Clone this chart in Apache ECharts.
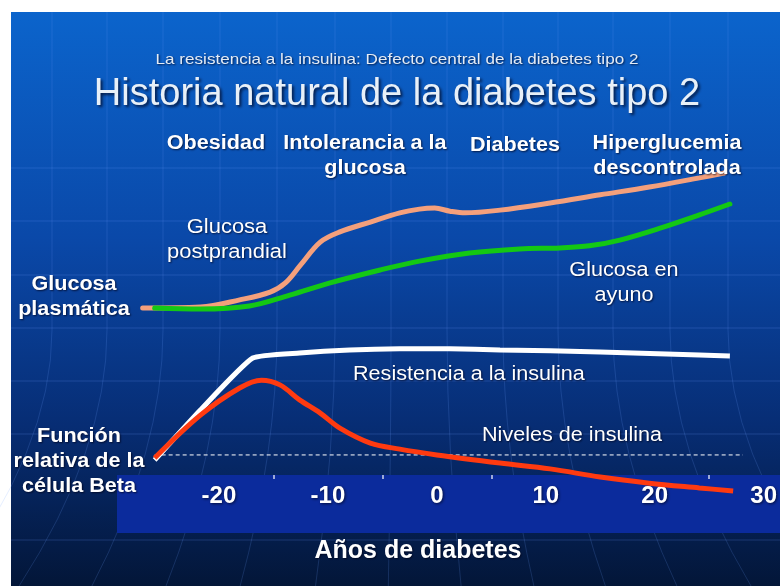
<!DOCTYPE html>
<html><head><meta charset="utf-8">
<script src="https://cdn.jsdelivr.net/npm/echarts@6/dist/echarts.min.js"></script>
<style>html,body{margin:0;padding:0;background:#fff}#c{width:780px;height:586px}</style>
</head><body><div id="c"></div>
<script>
// Years of diabetes (x) and relative level (y)
const xTicks = [-20, -10, 0, 10, 20, 30];
const xMinorTicks = [-15, -5, 5, 15, 25];
const postprandial = [[-27.0,49.1],[-21.7,49.4],[-18.1,51.5],[-15.3,53.8],[-13.9,56.5],[-12.5,61.8],[-10.7,68.5],[-8.9,71.5],[-6.1,74.4],[-3.4,77.1],[-1.6,78.2],[-0.2,78.5],[1.2,77.6],[2.6,77.1],[5.8,77.9],[10.4,80.0],[15.0,82.4],[19.5,84.7],[24.1,87.4],[26.4,88.8]];
const ayuno = [[-25.9,49.1],[-21.7,48.8],[-17.2,49.7],[-13.5,52.9],[-9.8,56.5],[-5.2,60.3],[-1.6,62.9],[3.0,65.3],[7.6,66.5],[11.3,66.8],[14.0,67.4],[16.8,69.1],[20.5,72.6],[24.1,76.5],[26.9,79.7]];
const resistencia = [[-25.9,4.4],[-21.7,19.1],[-16.9,34.4],[-12.6,35.9],[-8.0,36.8],[-3.4,37.1],[1.2,37.1],[5.8,36.8],[15.0,36.2],[24.1,35.3],[26.9,35.0]];
const insulina = [[-25.9,5.0],[-21.7,17.6],[-18.1,25.6],[-16.1,27.9],[-14.4,26.5],[-12.6,22.1],[-10.7,18.2],[-8.9,13.8],[-6.1,9.4],[-3.4,7.6],[0,5.9],[5.8,3.5],[10.4,1.8],[15.0,-0.6],[19.5,-2.4],[24.1,-3.8],[27.2,-4.7]];
const baseline = [[-25.9,5.9],[28.1,5.9]];

const FONT = '"Liberation Sans", Arial, sans-serif';
const shadow = {textShadowColor:'rgba(0,0,20,0.7)', textShadowBlur:2, textShadowOffsetX:1, textShadowOffsetY:1};
function txt(x, y, text, size, weight, align, extra, sx) {
  return {type:'text', x:x, y:y, z:100, scaleX:sx||1,
    style:Object.assign({text:text, fill:'#ffffff', font:(weight||'normal')+' '+size+'px '+FONT,
      textAlign:align||'center', textVerticalAlign:'middle', lineHeight:25}, shadow, extra||{})};
}
const deco = [];
const vx = [52,107,163,220,277,335,391,447,503,558,613,670,728];
[168,221,275,328,381,434,540].forEach(y=>deco.push({type:'line', z:-9, shape:{x1:11,y1:y,x2:780,y2:y}, style:{stroke:'rgba(110,160,255,0.22)', lineWidth:1}}));
vx.forEach(x=>deco.push({type:'line', z:-9, shape:{x1:x,y1:12,x2:x,y2:330}, style:{stroke:'rgba(110,160,255,0.18)', lineWidth:1}}));
vx.forEach(x=>{const d=(x-400)*0.25; deco.push({type:'bezierCurve', z:-9, shape:{x1:x,y1:330,x2:x+d*1.2,y2:586,cpx1:x,cpy1:450}, style:{stroke:'rgba(110,160,255,0.18)', lineWidth:1, fill:null}})});

const chart = echarts.init(document.getElementById('c'));
chart.setOption({
  animation:false,
  backgroundColor:'#ffffff',
  graphic:[
    {type:'rect', z:-10, shape:{x:11,y:12,width:769,height:574},
      style:{fill:new echarts.graphic.LinearGradient(0,0,0,1,[
        {offset:0,color:'#0b64cc'},{offset:0.4,color:'#0a48a8'},{offset:0.72,color:'#072d74'},{offset:1,color:'#031638'}])}},
    ...deco,
    {type:'rect', z:-5, shape:{x:117,y:475,width:663,height:58}, style:{fill:'#0b2b9c'}},
    txt(397,60,'La resistencia a la insulina: Defecto central de la diabetes tipo 2',15,'normal','center',{fill:'#e4ecf6'},1.14),
    txt(397,95,'Historia natural de la diabetes tipo 2',38,'normal','center',{fill:'#e8f0f8', textShadowBlur:3, textShadowOffsetX:2, textShadowOffsetY:2}),
    txt(216,143,'Obesidad',20,'bold','center',null,1.08),
    txt(365,156,'Intolerancia a la\nglucosa',20,'bold','center',null,1.08),
    txt(515,145,'Diabetes',20,'bold','center',null,1.08),
    txt(667,156,'Hiperglucemia\ndescontrolada',20,'bold','center',null,1.08),
    txt(227,240,'Glucosa\npostprandial',20,'normal','center',null,1.1),
    txt(74,297,'Glucosa\nplasmática',20,'bold','center',null,1.08),
    txt(624,283,'Glucosa en\nayuno',20,'normal','center',null,1.08),
    txt(353,374,'Resistencia a la insulina',20,'normal','left',null,1.08),
    txt(482,435,'Niveles de insulina',20,'normal','left',null,1.08),
    txt(79,461,'Función\nrelativa de la\ncélula Beta',20,'bold','center',null,1.08),
    txt(418,551,'Años de diabetes',25,'bold')
  ],
  grid:{left:110, right:16, top:135, bottom:77},
  xAxis:{type:'value', min:-30, max:30, interval:10, offset:-34,
    axisLine:{show:false, onZero:false},
    axisTick:{show:true, customValues:xMinorTicks, length:4, lineStyle:{color:'rgba(255,255,255,0.6)', width:2}},
    splitLine:{show:false},
    axisLabel:{customValues:xTicks, margin:9, color:'#ffffff', fontSize:24, fontWeight:'bold', fontFamily:FONT,
      textShadowColor:'rgba(0,0,20,0.7)', textShadowBlur:3, textShadowOffsetX:1, textShadowOffsetY:1}},
  yAxis:{type:'value', min:-10, max:100, show:false, splitLine:{show:false}},
  series:[
    {type:'line', name:'Glucosa postprandial', data:postprandial, smooth:0.35, symbol:'none', z:3, lineStyle:{color:'#f4a07c', width:5, cap:'round'}},
    {type:'line', name:'Glucosa en ayuno', data:ayuno, smooth:0.35, symbol:'none', z:4, lineStyle:{color:'#14c814', width:5, cap:'round'}},
    {type:'line', name:'Niveles basales', data:baseline, symbol:'none', z:2, lineStyle:{color:'#ffffff', width:1, type:[4,3]}},
    {type:'line', name:'Resistencia a la insulina', data:resistencia, smooth:0.15, symbol:'none', z:4, lineStyle:{color:'#ffffff', width:5}},
    {type:'line', name:'Niveles de insulina', data:insulina, smooth:0.35, symbol:'none', z:5, lineStyle:{color:'#ff3a10', width:5}}
  ]
});
</script></body></html>
